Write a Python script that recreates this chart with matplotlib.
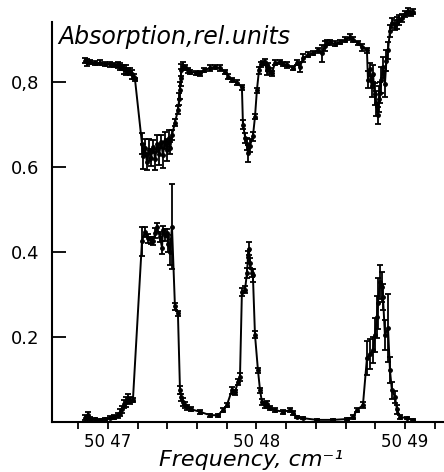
import numpy as np
import matplotlib
matplotlib.use("Agg")
import matplotlib.pyplot as plt
from matplotlib.ticker import MultipleLocator

# upper curve (absorption of the whole sample)
top_freq = [5046.845, 5046.860, 5046.880, 5046.910, 5046.946, 5046.980, 5047.013, 5047.040,
            5047.067, 5047.080, 5047.094, 5047.110, 5047.121, 5047.135, 5047.148, 5047.162,
            5047.175, 5047.182, 5047.229, 5047.236, 5047.250, 5047.262, 5047.275, 5047.290,
            5047.305, 5047.318, 5047.332, 5047.345, 5047.358, 5047.370, 5047.385, 5047.398,
            5047.410, 5047.420, 5047.431, 5047.451, 5047.471, 5047.480, 5047.485, 5047.490,
            5047.495, 5047.505, 5047.519, 5047.540, 5047.552, 5047.590, 5047.620, 5047.650,
            5047.687, 5047.721, 5047.754, 5047.788, 5047.810, 5047.835, 5047.869, 5047.902,
            5047.909, 5047.925, 5047.936, 5047.943, 5047.956, 5047.976, 5047.990, 5048.003,
            5048.017, 5048.030, 5048.045, 5048.057, 5048.068, 5048.077, 5048.090, 5048.104,
            5048.125, 5048.158, 5048.180, 5048.205, 5048.246, 5048.273, 5048.293, 5048.313,
            5048.347, 5048.380, 5048.414, 5048.441, 5048.461, 5048.475, 5048.495, 5048.529,
            5048.562, 5048.596, 5048.630, 5048.650, 5048.684, 5048.710, 5048.744, 5048.751,
            5048.765, 5048.775, 5048.785, 5048.795, 5048.805, 5048.818, 5048.825, 5048.832,
            5048.840, 5048.852, 5048.865, 5048.875, 5048.886, 5048.899, 5048.912, 5048.930,
            5048.946, 5048.962, 5048.980, 5049.000, 5049.020, 5049.040, 5049.054]
top_abs = [0.850, 0.846, 0.847, 0.844, 0.845, 0.843, 0.842, 0.840,
           0.840, 0.836, 0.835, 0.830, 0.828, 0.826, 0.824, 0.818,
           0.812, 0.806, 0.655, 0.625, 0.645, 0.612, 0.640, 0.622,
           0.648, 0.618, 0.655, 0.630, 0.660, 0.628, 0.662, 0.640,
           0.668, 0.645, 0.675, 0.704, 0.734, 0.760, 0.781, 0.810,
           0.828, 0.838, 0.835, 0.828, 0.824, 0.822, 0.821, 0.828,
           0.833, 0.836, 0.833, 0.824, 0.812, 0.805, 0.798, 0.788,
           0.700, 0.668, 0.654, 0.632, 0.650, 0.672, 0.718, 0.781,
           0.828, 0.842, 0.845, 0.847, 0.828, 0.835, 0.826, 0.821,
           0.845, 0.847, 0.842, 0.840, 0.833, 0.845, 0.835, 0.856,
           0.864, 0.868, 0.875, 0.868, 0.885, 0.892, 0.893, 0.890,
           0.894, 0.899, 0.906, 0.899, 0.892, 0.882, 0.875, 0.805,
           0.830, 0.790, 0.820, 0.772, 0.750, 0.722, 0.760, 0.775,
           0.805, 0.835, 0.795, 0.850, 0.875, 0.920, 0.939, 0.935,
           0.939, 0.945, 0.951, 0.960, 0.966, 0.962, 0.965]
top_err = [0.006, 0.008, 0.005, 0.005, 0.006, 0.005, 0.006, 0.005,
           0.006, 0.008, 0.006, 0.010, 0.012, 0.006, 0.008, 0.010,
           0.006, 0.004, 0.025, 0.030, 0.020, 0.020, 0.025, 0.020,
           0.015, 0.025, 0.020, 0.025, 0.015, 0.030, 0.020, 0.025,
           0.020, 0.015, 0.012, 0.008, 0.010, 0.015, 0.020, 0.020,
           0.015, 0.010, 0.006, 0.006, 0.005, 0.005, 0.006, 0.005,
           0.006, 0.005, 0.006, 0.005, 0.006, 0.005, 0.006, 0.006,
           0.010, 0.012, 0.015, 0.020, 0.015, 0.010, 0.006, 0.006,
           0.008, 0.006, 0.005, 0.008, 0.012, 0.010, 0.008, 0.006,
           0.006, 0.005, 0.005, 0.006, 0.005, 0.006, 0.012, 0.010,
           0.006, 0.005, 0.006, 0.020, 0.012, 0.006, 0.005, 0.006,
           0.005, 0.006, 0.008, 0.006, 0.005, 0.008, 0.006, 0.020,
           0.015, 0.025, 0.020, 0.025, 0.030, 0.020, 0.030, 0.025,
           0.030, 0.025, 0.030, 0.025, 0.020, 0.015, 0.012, 0.012,
           0.015, 0.012, 0.010, 0.008, 0.008, 0.006, 0.006]

# lower curve (peaks)
bot_freq = [5046.845, 5046.865, 5046.880, 5046.910, 5046.946, 5046.980, 5047.013, 5047.040,
            5047.067, 5047.080, 5047.094, 5047.110, 5047.121, 5047.135, 5047.148, 5047.168,
            5047.229, 5047.249, 5047.269, 5047.290, 5047.303, 5047.320, 5047.330, 5047.350,
            5047.364, 5047.370, 5047.384, 5047.397, 5047.404, 5047.418, 5047.431, 5047.451,
            5047.471, 5047.485, 5047.495, 5047.505, 5047.519, 5047.532, 5047.560, 5047.620,
            5047.687, 5047.741, 5047.774, 5047.801, 5047.835, 5047.855, 5047.875, 5047.889,
            5047.902, 5047.923, 5047.936, 5047.943, 5047.949, 5047.956, 5047.970, 5047.976,
            5047.990, 5048.010, 5048.024, 5048.037, 5048.055, 5048.071, 5048.091, 5048.125,
            5048.178, 5048.226, 5048.246, 5048.273, 5048.313, 5048.407, 5048.515, 5048.609,
            5048.650, 5048.677, 5048.717, 5048.744, 5048.764, 5048.785, 5048.798, 5048.811,
            5048.818, 5048.832, 5048.845, 5048.852, 5048.865, 5048.886, 5048.899, 5048.912,
            5048.933, 5048.946, 5048.966, 5049.013, 5049.054]
bot_abs = [0.010, 0.016, 0.008, 0.006, 0.005, 0.007, 0.010, 0.012,
           0.016, 0.022, 0.030, 0.042, 0.047, 0.055, 0.050, 0.052,
           0.425, 0.448, 0.432, 0.428, 0.426, 0.445, 0.458, 0.435,
           0.410, 0.452, 0.440, 0.445, 0.420, 0.400, 0.460, 0.272,
           0.256, 0.075, 0.058, 0.047, 0.040, 0.035, 0.030, 0.024,
           0.016, 0.016, 0.028, 0.040, 0.075, 0.070, 0.094, 0.106,
           0.306, 0.311, 0.351, 0.388, 0.408, 0.374, 0.351, 0.345,
           0.205, 0.122, 0.075, 0.047, 0.040, 0.042, 0.033, 0.028,
           0.024, 0.028, 0.021, 0.012, 0.009, 0.005, 0.005, 0.007,
           0.012, 0.028, 0.040, 0.150, 0.160, 0.169, 0.205, 0.247,
           0.280, 0.330, 0.318, 0.294, 0.205, 0.221, 0.122, 0.075,
           0.059, 0.030, 0.012, 0.009, 0.005]
bot_err = [0.006, 0.008, 0.004, 0.003, 0.003, 0.003, 0.004, 0.004,
           0.006, 0.008, 0.008, 0.010, 0.012, 0.010, 0.008, 0.005,
           0.035, 0.012, 0.010, 0.008, 0.010, 0.012, 0.010, 0.012,
           0.015, 0.010, 0.015, 0.010, 0.020, 0.030, 0.100, 0.008,
           0.006, 0.010, 0.008, 0.010, 0.008, 0.006, 0.005, 0.004,
           0.004, 0.004, 0.005, 0.005, 0.008, 0.006, 0.008, 0.010,
           0.010, 0.008, 0.012, 0.015, 0.015, 0.012, 0.010, 0.015,
           0.008, 0.006, 0.006, 0.008, 0.006, 0.008, 0.005, 0.004,
           0.004, 0.005, 0.004, 0.003, 0.003, 0.002, 0.002, 0.003,
           0.004, 0.005, 0.006, 0.040, 0.035, 0.030, 0.040, 0.050,
           0.060, 0.040, 0.035, 0.030, 0.035, 0.080, 0.030, 0.020,
           0.015, 0.010, 0.005, 0.003, 0.002]

major_ticks = [5047, 5048, 5049]
major_labels = ["50 47", "50 48", "50 49"]
y_ticks = [0.2, 0.4, 0.6, 0.8]
y_labels = ["0.2", "0.4", "0.6", "0,8"]

fig = plt.figure(figsize=(4.44, 4.72), dpi=100)
ax = fig.add_axes([52 / 444, 50 / 472, 392 / 444, 422 / 472])

style = dict(fmt='-o', color='black', lw=1.4, ms=2.5, elinewidth=1.3,
             capsize=2, capthick=1.3)
ax.errorbar(top_freq, top_abs, yerr=top_err, **style)
ax.errorbar(bot_freq, bot_abs, yerr=bot_err, **style)

ax.set_xlim(5046.623, 5049.263)
ax.set_ylim(0, 0.993)

for s in ['top', 'right']:
    ax.spines[s].set_visible(False)
ax.spines['left'].set_bounds(0, 0.941)
ax.spines['left'].set_linewidth(1.5)
ax.spines['bottom'].set_linewidth(1.5)

ax.set_xticks(major_ticks)
ax.set_xticklabels(major_labels)
ax.xaxis.set_minor_locator(MultipleLocator(0.2))
ax.tick_params(axis='x', which='both', direction='out', length=5, width=1.3,
               labelsize=12, pad=3)
ax.set_yticks(y_ticks)
ax.set_yticklabels(y_labels)
ax.tick_params(axis='y', direction='in', length=10, width=1.3, labelsize=13, pad=9)

fig.text(58 / 444, 1 - 37 / 472, "Absorption,rel.units", fontsize=17,
         style='italic', ha='left', va='center')
fig.text(251 / 444, 1 - 466 / 472, "Frequency, cm⁻¹", fontsize=16,
         style='italic', ha='center', va='baseline')

fig.savefig("out.png", dpi=100)
